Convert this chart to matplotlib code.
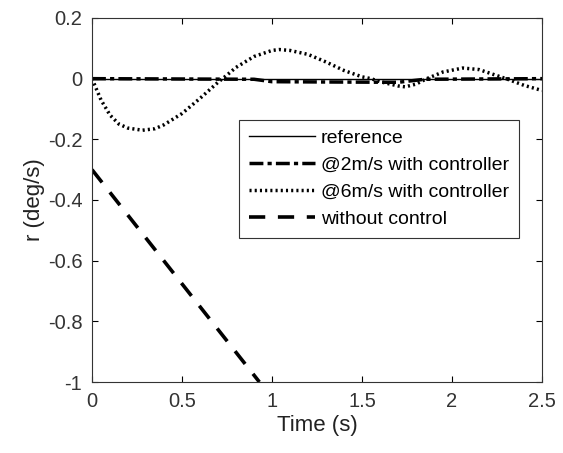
import matplotlib
matplotlib.use('Agg')
from matplotlib import pyplot as plt

plt.rcParams['font.family'] = ['Liberation Sans', 'DejaVu Sans']

# reference
t_ref = [0, 2.5]
r_ref = [0, 0]

# @2m/s with controller
t_2ms = [0, 0.9, 1.0, 1.3, 1.7, 1.85, 2.5]
r_2ms = [0, -0.002, -0.01, -0.011, -0.012, -0.002, 0]

# @6m/s with controller
t_6ms = [0, 0.05, 0.1, 0.15, 0.2, 0.28, 0.35, 0.4, 0.5, 0.6, 0.7, 0.75, 0.8,
         0.9, 1.0, 1.04, 1.1, 1.2, 1.3, 1.4, 1.5, 1.55, 1.6, 1.7, 1.74, 1.8,
         1.86, 1.95, 2.06, 2.15, 2.2, 2.3, 2.4, 2.5]
r_6ms = [0, -0.07, -0.12, -0.15, -0.163, -0.17, -0.165, -0.152, -0.115, -0.065,
         -0.012, 0.012, 0.037, 0.073, 0.093, 0.096, 0.093, 0.08, 0.055, 0.027,
         0.006, 0.0, -0.01, -0.024, -0.027, -0.018, 0.0, 0.022, 0.035, 0.03,
         0.02, 0.0, -0.022, -0.039]

# without control
t_nc = [0, 0.93]
r_nc = [-0.3, -1.0]

fig = plt.figure(figsize=(5.63, 4.53), dpi=100)
ax = fig.add_axes([0.1634, 0.1567, 0.7993, 0.8036])

ax.plot(t_ref, r_ref, color='black', lw=1.0, label='reference')
ax.plot(t_2ms, r_2ms, color='black', lw=2.5, linestyle=(0, (4, 1.2, 1.2, 1.2)),
        label='@2m/s with controller')
ax.plot(t_6ms, r_6ms, color='black', lw=2.5, linestyle=(0, (0.6, 0.9)),
        label='@6m/s with controller')
ax.plot(t_nc, r_nc, color='black', lw=2.6, linestyle=(0, (4.5, 3.5)),
        label='without control')

ax.set_xlim(0, 2.5)
ax.set_ylim(-1, 0.2)
ax.set_xticks([0, 0.5, 1, 1.5, 2, 2.5])
ax.set_xticklabels(['0', '0.5', '1', '1.5', '2', '2.5'])
ax.set_yticks([-1, -0.8, -0.6, -0.4, -0.2, 0, 0.2])
ax.set_yticklabels(['-1', '-0.8', '-0.6', '-0.4', '-0.2', '0', '0.2'])
ax.tick_params(direction='in', top=True, right=True, labelsize=14.5,
               labelcolor='#333333', length=4, pad=7)
for s in ax.spines.values():
    s.set_color('#333333')
    s.set_linewidth(0.8)

ax.set_xlabel('Time (s)', fontsize=16, color='#222222', labelpad=3)
ax.set_ylabel('r (deg/s)', fontsize=16, color='#222222', labelpad=2)

leg = ax.legend(loc='upper left', bbox_to_anchor=(0.327, 0.72), fontsize=14,
                handlelength=3.4, handletextpad=0.3, borderpad=0.5,
                labelspacing=0.48, borderaxespad=0, fancybox=False,
                edgecolor='#333333', framealpha=1)
leg.get_frame().set_linewidth(0.8)

fig.savefig('out.png', dpi=100)
